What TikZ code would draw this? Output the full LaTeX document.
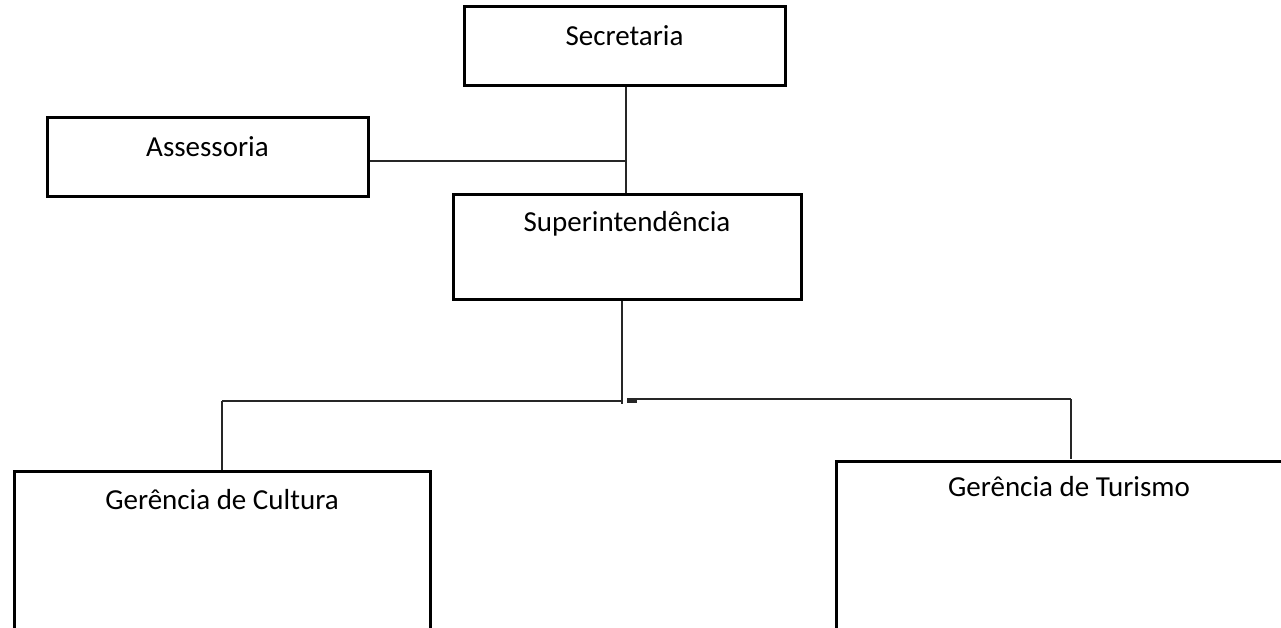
\documentclass[tikz,border=0pt]{standalone}
\usepackage{fontspec}
\setmainfont{Carlito}
\begin{document}
\begin{tikzpicture}[x=1pt,y=-1pt,
  orgbox/.style={draw=black, line width=3pt, rectangle, inner sep=0pt},
  lbl/.style={anchor=base, inner sep=0pt, font=\fontsize{29}{35}\selectfont},
  conn/.style={draw=black!85, line width=1.6pt}]
\useasboundingbox (0,0) rectangle (1281,628);
\clip (0,0) rectangle (1281,628);
% boxes
\node[orgbox, minimum width=321pt, minimum height=79pt] (sec) at (624.5,46.5) {};
\node[orgbox, minimum width=321pt, minimum height=79pt] (ass) at (207.5,157.5) {};
\node[orgbox, minimum width=348pt, minimum height=104pt] (sup) at (627,247) {};
\node[orgbox, minimum width=416pt, minimum height=200pt] (cul) at (222,571) {};
\node[orgbox, minimum width=466pt, minimum height=200pt] (tur) at (1069,561) {};
% labels
\node[lbl] (secT) at ([yshift=-40pt]sec.north) {Secretaria};
\node[lbl] (assT) at ([yshift=-40pt]ass.north) {Assessoria};
\node[lbl] (supT) at ([yshift=-38pt]sup.north) {Superintendência};
\node[lbl] (culT) at ([yshift=-40pt]cul.north) {Gerência de Cultura};
\node[lbl] (turT) at ([yshift=-37pt]tur.north) {Gerência de Turismo};
% connectors
\coordinate (j1) at (626,161);
\coordinate (j2) at (622,401);
\coordinate (j2e) at (622,404);
\coordinate (jl) at (222,401);
\coordinate (jr0) at (627,399);
\coordinate (jr) at (1071,399);
\coordinate (jrb) at (1071,459);
\coordinate (tk0) at (627,401.5);
\coordinate (tk1) at (637,401.5);
\draw[conn] (j1 |- sec.south) -- (j1 |- sup.north);
\draw[conn] (ass.east |- j1) -- (j1);
\draw[conn] (j2 |- sup.south) -- (j2e);
\draw[conn] (jl) -- (j2);
\draw[conn] (jl) -- (cul.north);
\draw[conn] (jr0) -- (jr);
\draw[conn] (jr) -- (jrb);
\draw[conn, line width=2.5pt] (tk0) -- (tk1);
\end{tikzpicture}
\end{document}
